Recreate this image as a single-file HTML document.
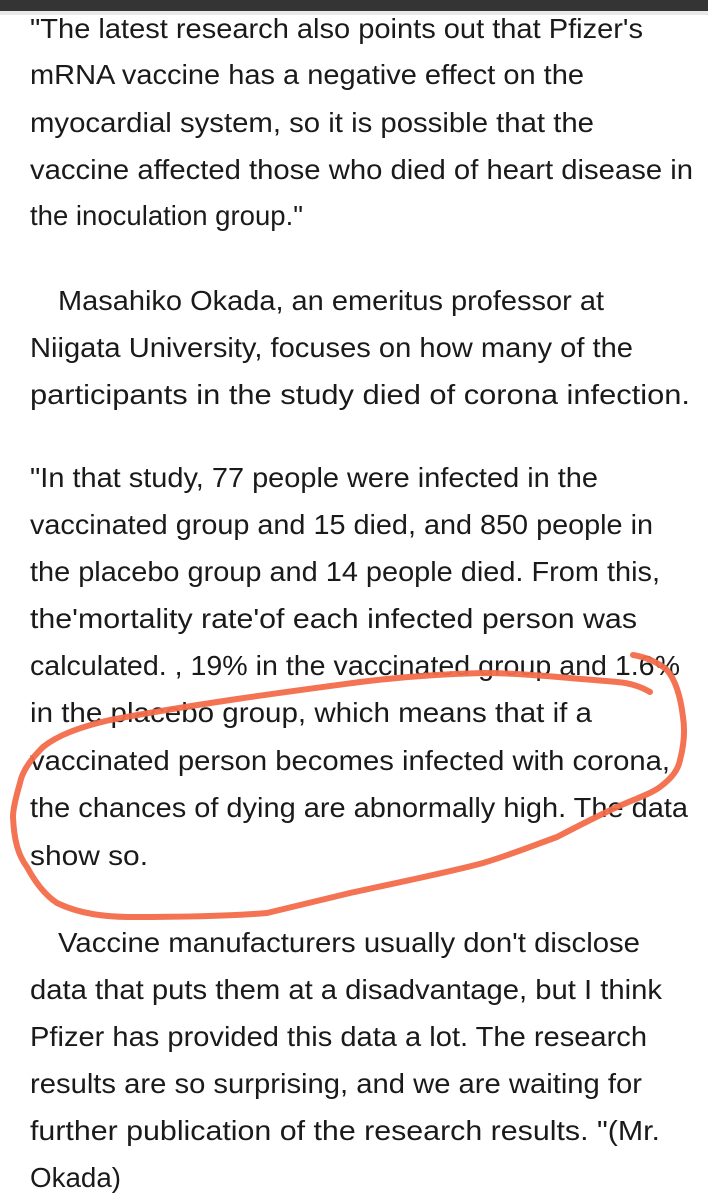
<!DOCTYPE html>
<html><head><meta charset="utf-8"><style>
html,body{margin:0;padding:0;background:#fff;width:708px;height:1200px;overflow:hidden}
svg{display:block}
text{font-family:"Liberation Sans",sans-serif;font-size:28px;fill:#1a1a1a}
</style></head><body>
<svg width="708" height="1200">
<rect x="0" y="0" width="708" height="11" fill="#343434"/>
<rect x="0" y="11" width="708" height="4" fill="#e8e8e8"/>
<g id="txt"></g>
<path d="M650,692 C640,686 630,683 617,682 C570,678 520,673 483,673 C440,674 400,677 360,682 C300,690 200,703 110,720 C80,727 58,735 43,747 C30,760 22,772 20,783 C15,800 13,810 13,817 C14,840 18,855 27,867 C35,882 45,895 57,903 C80,914 105,917 133,917 C180,917 230,916 267,913 C300,905 330,898 350,893 C400,882 450,872 483,863 C510,855 535,845 557,837 C580,825 600,815 617,807 C640,797 652,793 660,787 C672,778 678,770 680,760 C684,745 685,730 683,717 C681,700 677,682 667,670 C658,662 645,657 633,655" fill="none" stroke="#f26b4a" stroke-width="6" stroke-linecap="round" stroke-linejoin="round" opacity="0.95"/>
</svg>
<script>
const lines=[
[28,30,643,"\"The latest research also points out that Pfizer's"],
[74,30,584,"mRNA vaccine has a negative effect on the"],
[122,30,594,"myocardial system, so it is possible that the"],
[169,30,693,"vaccine affected those who died of heart disease in"],
[215,30,303,"the inoculation group.\""],
[300,58,604,"Masahiko Okada, an emeritus professor at"],
[347,30,633,"Niigata University, focuses on how many of the"],
[394,30,690,"participants in the study died of corona infection."],
[477,30,598,"\"In that study, 77 people were infected in the"],
[524,30,653,"vaccinated group and 15 died, and 850 people in"],
[571,30,660,"the placebo group and 14 people died. From this,"],
[618,30,637,"the'mortality rate'of each infected person was"],
[665,30,680,"calculated. , 19% in the vaccinated group and 1.6%"],
[712,30,592,"in the placebo group, which means that if a"],
[760,30,670,"vaccinated person becomes infected with corona,"],
[807,30,688,"the chances of dying are abnormally high. The data"],
[855,30,148,"show so."],
[942,58,640,"Vaccine manufacturers usually don't disclose"],
[989,30,662,"data that puts them at a disadvantage, but I think"],
[1036,30,647,"Pfizer has provided this data a lot. The research"],
[1083,30,642,"results are so surprising, and we are waiting for"],
[1130,30,660,"further publication of the research results. \"(Mr."],
[1177,30,121,"Okada)"]];
const g=document.getElementById('txt');
lines.forEach((l,i)=>{
const t=document.createElementNS('http://www.w3.org/2000/svg','text');
t.setAttribute('x',l[1]);t.setAttribute('y',l[0]+10);
t.setAttribute('textLength',l[2]-l[1]);t.setAttribute('lengthAdjust','spacingAndGlyphs');
t.textContent=l[3];


g.appendChild(t);
});
</script>
</body></html>
